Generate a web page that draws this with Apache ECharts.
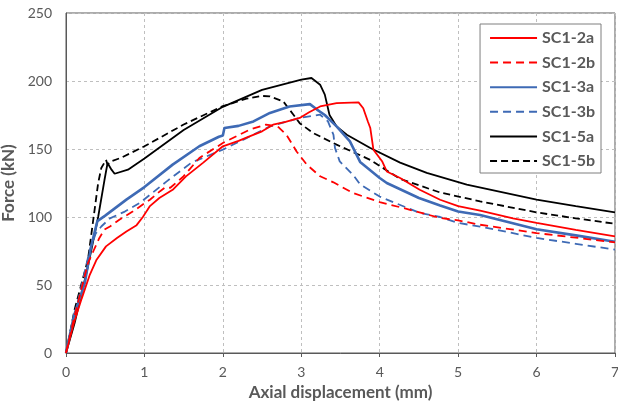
<!DOCTYPE html>
<html>
<head>
<meta charset="utf-8">
<script src="https://cdn.jsdelivr.net/npm/echarts@6/dist/echarts.min.js"></script>
<style>html,body{margin:0;padding:0;background:#fff}#c{width:618px;height:407px}</style>
</head>
<body>
<div id="c"></div>
<script>
const seriesNames = ['SC1-2a','SC1-2b','SC1-3a','SC1-3b','SC1-5a','SC1-5b'];
const xTicks = [0,1,2,3,4,5,6,7];
const yTicks = [0,50,100,150,200,250];

const sc12a_x = [0,0.1,0.2,0.3,0.39,0.51,0.65,0.77,0.9,0.98,1.03,1.07,1.19,1.36,1.53,1.75,2.0,2.2,2.34,2.5,2.64,2.8,2.98,3.1,3.24,3.45,3.73,3.79,3.85,3.88,3.92,4.03,4.09,4.26,4.51,4.77,5.0,5.28,5.7,6.0,6.5,7.0];
const sc12a_y = [0,22,40,57,68.6,78.4,84.5,89.4,94,100,104.5,108,114,120,129.9,140,152,156,159.3,163,167.9,170,172.8,177,181.3,183.8,184.3,180,170,165.4,149.5,141,133.5,128.7,120,112.7,108,104.6,99,95.6,90.5,85.7];

const sc12b_x = [0,0.1,0.2,0.28,0.35,0.42,0.49,0.56,0.68,0.85,1.0,1.07,1.2,1.27,1.33,1.5,1.7,2.0,2.34,2.55,2.7,2.81,2.94,3.07,3.24,3.41,3.66,4.0,4.3,4.77,5.0,5.28,6.0,6.5,7.0];
const sc12b_y = [0,25,48,66,75,84,90.7,93,98,104,110,112.7,119,122,121.5,130,143.4,154.4,164.2,168,166.6,160.5,148.2,138.5,130,125.5,117.6,111,106.6,99.3,97.5,94.3,88.2,84.8,81.3];

const sc13a_x = [0,0.1,0.24,0.32,0.4,0.5,0.77,1.0,1.36,1.7,1.95,2.0,2.02,2.2,2.39,2.6,2.85,3.11,3.2,3.3,3.45,3.62,3.75,4.0,4.09,4.5,4.77,5.0,5.28,6.0,6.5,7.0];
const sc13a_y = [0,27,51.5,78.4,97,101,112.8,122,138.5,152,159,160,165.4,167,170.3,176.5,181.3,183,179,175,166.6,155.6,140.5,128.7,125,114,108.5,104,101.5,91,86.5,81.8];

const sc13b_x = [0,0.1,0.2,0.3,0.38,0.45,0.56,0.75,0.94,1.28,1.6,2.0,2.3,2.6,2.98,3.24,3.34,3.41,3.43,3.49,3.66,3.75,4.0,4.51,4.77,5.0,5.28,6.0,6.5,7.0];
const sc13b_y = [0,25,50,75,88,93,99,104,110.3,126,140,149.5,158,166.6,172.8,175.2,170.3,160.5,150.7,140.9,131,124,115,103,100,95.6,93,84.6,80.3,76];

const sc15a_x = [0,0.11,0.28,0.41,0.49,0.53,0.55,0.58,0.62,0.79,1.0,1.5,2.0,2.5,3.0,3.13,3.24,3.3,3.36,3.45,3.58,3.88,4.26,4.6,5.11,6.0,6.5,7.0];
const sc15a_y = [0,22,63.7,100,127,139.7,140.5,134.8,131.8,134.8,143,164,181,193.5,201,202.2,197.3,190,175,166.6,160.5,150.7,140,132.4,123.8,112.7,108,103.4];

const sc15b_x = [0,0.11,0.28,0.41,0.45,0.51,0.53,0.58,0.7,1.0,1.5,2.0,2.3,2.5,2.6,2.77,2.9,2.98,3.15,3.45,3.88,4.26,4.77,5.28,6.0,6.5,7.0];
const sc15b_y = [0,32,68.6,125,136,142,138.6,141,143.5,152,168,181.5,187,189,188.7,185,175.2,169,161.8,153.2,142,128,118,111.5,103.4,99,95];

const colors = ['#FF0000','#FF0000','#3E6AB5','#3E6AB5','#000000','#000000'];
const dashes = ['solid',[8,5],'solid',[8,5],'solid',[7,4]];
const widths = [1.8,1.8,2.6,1.8,1.8,1.8];
const xs = [sc12a_x,sc12b_x,sc13a_x,sc13b_x,sc15a_x,sc15b_x];
const ys = [sc12a_y,sc12b_y,sc13a_y,sc13b_y,sc15a_y,sc15b_y];

const font = 'Lato, "Open Sans", sans-serif';
const chart = echarts.init(document.getElementById('c'));
chart.setOption({
  animation: false,
  backgroundColor: '#fff',
  grid: {left: 66, right: 3, top: 13, bottom: 54, containLabel: false, outerBoundsMode: 'none',
    show: true, borderColor: '#595959', borderWidth: 1},
  legend: {
    orient: 'vertical', right: 17, top: 24,
    data: seriesNames,
    padding: [6, 6, 4, 9],
    itemWidth: 47, itemHeight: 16, itemGap: 8.6,
    itemStyle: {opacity: 0},
    borderColor: '#7f7f7f', borderWidth: 1, backgroundColor: '#fff',
    textStyle: {fontFamily: font, fontSize: 16, fontWeight: 'bold', color: '#595959', padding: [0,0,0,0]}
  },
  xAxis: {
    type: 'value', min: 0, max: 7, interval: 1,
    name: 'Axial displacement (mm)', nameLocation: 'middle', nameGap: 27,
    nameTextStyle: {fontFamily: font, fontSize: 17, fontWeight: 'bold', color: '#595959'},
    axisLine: {show: true, lineStyle: {color: '#595959', width: 1}},
    axisTick: {show: true, length: 4, lineStyle: {color: '#595959'}},
    axisLabel: {fontFamily: font, fontSize: 14, color: '#595959', margin: 12,
      formatter: v => xTicks.includes(v) ? String(v) : ''},
    splitLine: {show: true, lineStyle: {color: '#bfbfbf', type: [3,3], width: 1}}
  },
  yAxis: {
    type: 'value', min: 0, max: 250, interval: 50,
    name: 'Force (kN)', nameLocation: 'middle', nameGap: 41, nameRotate: 90,
    nameTextStyle: {fontFamily: font, fontSize: 17, fontWeight: 'bold', color: '#595959'},
    axisLine: {show: true, lineStyle: {color: '#595959', width: 1}},
    axisTick: {show: false},
    axisLabel: {fontFamily: font, fontSize: 14, color: '#595959', margin: 14,
      formatter: v => yTicks.includes(v) ? String(v) : ''},
    splitLine: {show: true, lineStyle: {color: '#bfbfbf', type: [3,3], width: 1}}
  },
  series: seriesNames.map((n, i) => ({
    name: n, type: 'line', symbol: 'none', showSymbol: false,
    data: xs[i].map((x, k) => [x, ys[i][k]]),
    lineStyle: {color: colors[i], type: dashes[i], width: widths[i]},
    itemStyle: {color: colors[i]},
    z: 10 - i
  }))
});
</script>
</body>
</html>
